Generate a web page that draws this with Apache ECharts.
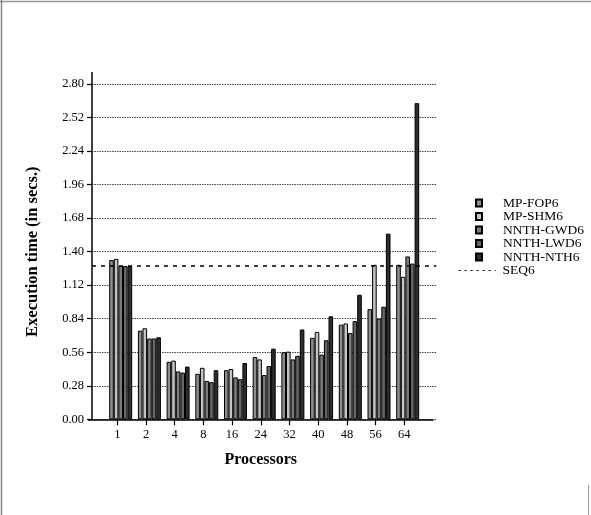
<!DOCTYPE html>
<html>
<head>
<meta charset="utf-8">
<style>
  html, body { margin: 0; padding: 0; background: #fff; }
  #chart { width: 591px; height: 515px; }
</style>
<script src="https://cdn.jsdelivr.net/npm/echarts/dist/echarts.min.js"></script>
</head>
<body>
<div id="chart"></div>
<script>
// ---- data ----
const categories = ['', '1', '2', '4', '8', '16', '24', '32', '40', '48', '56', '64', ''];
const mpFOP6   = [null, 1.33, 0.74, 0.48, 0.38, 0.41, 0.52, 0.56, 0.68, 0.79, 0.92, 1.29, null];
const mpSHM6   = [null, 1.34, 0.76, 0.49, 0.43, 0.42, 0.50, 0.565, 0.73, 0.80, 1.29, 1.19, null];
const nnthGWD6 = [null, 1.28, 0.675, 0.40, 0.32, 0.35, 0.37, 0.50, 0.54, 0.72, 0.84, 1.36, null];
const nnthLWD6 = [null, 1.28, 0.675, 0.39, 0.31, 0.335, 0.445, 0.53, 0.66, 0.82, 0.94, 1.30, null];
const nnthNTH6 = [null, 1.28, 0.685, 0.44, 0.41, 0.47, 0.59, 0.75, 0.86, 1.04, 1.55, 2.64, null];
const seq6     = [1.28, 1.28, 1.28, 1.28, 1.28, 1.28, 1.28, 1.28, 1.28, 1.28, 1.28, 1.28, 1.28];
const yMin = 0, yMax = 2.80, yStep = 0.28;

const FONT = 'Liberation Serif';
const chart = echarts.init(document.getElementById('chart'), null, { renderer: 'canvas' });

const barNames = ['MP-FOP6', 'MP-SHM6', 'NNTH-GWD6', 'NNTH-LWD6', 'NNTH-NTH6'];
const barData = [mpFOP6, mpSHM6, nnthGWD6, nnthLWD6, nnthNTH6];
const barFills = ['#8e8e8e', '#c4c4c4', '#7c7c7c', '#666666', '#2c2c2c'];

const barSeries = barNames.map((n, i) => ({
  name: n,
  type: 'bar',
  xAxisIndex: 1,
  yAxisIndex: 1,
  data: barData[i],
  barWidth: 4.6,
  barGap: '0%',
  itemStyle: { color: barFills[i], borderColor: '#000', borderWidth: 1 },
  emphasis: { disabled: true },
  animation: false
}));

const option = {
  animation: false,
  backgroundColor: '#fff',
  textStyle: { fontFamily: FONT },
  grid: [
    { left: 88.6, right: 158, top: 84, bottom: 95.7 },
    { left: 92, right: 154.6, top: 84, bottom: 95.7 }
  ],
  legend: [
    {
      data: barNames,
      orient: 'vertical',
      left: 470,
      top: 191,
      itemWidth: 6,
      itemHeight: 7,
      itemGap: -0.5,
      icon: 'rect',
      textStyle: { fontFamily: FONT, fontSize: 13.5, color: '#000', lineHeight: 13, padding: [0, 0, 0, 16] },
      selectedMode: false
    },
    {
      data: ['SEQ6'],
      orient: 'vertical',
      left: 453,
      top: 258.5,
      itemWidth: 37,
      itemHeight: 7,
      textStyle: { fontFamily: FONT, fontSize: 13.5, color: '#000', lineHeight: 13, padding: [0, 0, 0, 2] },
      itemStyle: { opacity: 0 },
      lineStyle: { type: [2, 4], width: 1.2, color: '#000' },
      selectedMode: false
    }
  ],
  xAxis: [
    {
      type: 'category',
      gridIndex: 0,
      data: categories,
      boundaryGap: false,
      name: 'Processors',
      nameLocation: 'middle',
      nameGap: 32.5,
      nameTextStyle: { fontFamily: FONT, fontSize: 16, fontWeight: 'bold', color: '#000' },
      axisLine: { lineStyle: { color: '#000', width: 1.5 } },
      axisTick: { length: 6, lineStyle: { color: '#000', width: 1.2 }, interval: (i, v) => v !== '' },
      axisLabel: { interval: 0, margin: 9, fontFamily: FONT, fontSize: 12.5, color: '#000' },
      splitLine: { show: false }
    },
    {
      type: 'category',
      gridIndex: 1,
      data: categories,
      boundaryGap: false,
      show: false
    }
  ],
  yAxis: [
    {
      type: 'value',
      gridIndex: 0,
      min: yMin, max: yMax, interval: yStep,
      show: false
    },
    {
      type: 'value',
      gridIndex: 1,
      min: yMin, max: yMax, interval: yStep,
      name: 'Execution time (in secs.)',
      nameLocation: 'middle',
      nameGap: 51,
      nameTextStyle: { fontFamily: FONT, fontSize: 16.5, fontWeight: 'bold', color: '#000' },
      axisLine: { show: true, lineStyle: { color: '#000', width: 1.5 } },
      axisTick: { show: true, length: 5, lineStyle: { color: '#000', width: 1.2 } },
      axisLabel: { margin: 8, fontFamily: FONT, fontSize: 12.5, color: '#000', formatter: v => v.toFixed(2) },
      splitLine: { show: true, lineStyle: { color: '#444', width: 1, type: [1.5, 1] } }
    }
  ],
  series: barSeries.concat([{
    name: 'SEQ6',
    type: 'line',
    xAxisIndex: 1,
    yAxisIndex: 1,
    data: seq6,
    symbol: 'none',
    itemStyle: { color: '#000' },
    lineStyle: { color: '#000', width: 1.3, type: [4, 5] },
    z: 5,
    emphasis: { disabled: true }
  }]),
  graphic: [
    { type: 'line', shape: { x1: 92, y1: 72, x2: 92, y2: 84 }, style: { stroke: '#000', lineWidth: 1.5 }, silent: true },
    { type: 'line', shape: { x1: 0, y1: 1.5, x2: 591, y2: 1.5 }, style: { stroke: '#999', lineWidth: 1.5 }, silent: true },
    { type: 'line', shape: { x1: 1.5, y1: 0, x2: 1.5, y2: 515 }, style: { stroke: '#888', lineWidth: 1.5 }, silent: true },
    { type: 'line', shape: { x1: 588.5, y1: 485, x2: 588.5, y2: 515 }, style: { stroke: '#999', lineWidth: 1 }, silent: true }
  ]
};
chart.setOption(option);
</script>
</body>
</html>
